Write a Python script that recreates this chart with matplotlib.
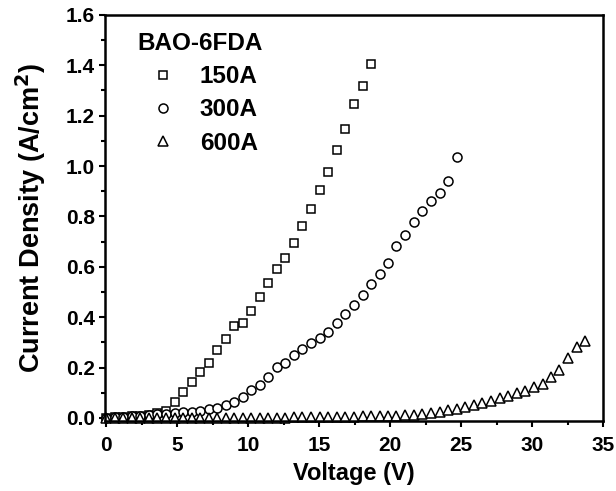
import matplotlib
matplotlib.use("Agg")
import matplotlib.pyplot as plt
from matplotlib.ticker import MultipleLocator

plt.rcParams['font.family'] = ['Liberation Sans', 'DejaVu Sans']
plt.rcParams['font.weight'] = 'bold'
plt.rcParams['mathtext.default'] = 'bf'

voltage = [0.0, 0.6, 1.2, 1.8, 2.4, 3.0, 3.6, 4.19, 4.83, 5.39,
           6.03, 6.61, 7.23, 7.81, 8.43, 9.01, 9.63, 10.23, 10.85, 11.43,
           12.05, 12.63, 13.22, 13.83, 14.45, 15.03, 15.65, 16.26, 16.85, 17.46,
           18.07, 18.66, 19.27, 19.83, 20.44, 21.06, 21.67, 22.28, 22.89, 23.50,
           24.09, 24.68, 25.29, 25.90, 26.49, 27.10, 27.71, 28.33, 28.93, 29.53,
           30.13, 30.75, 31.33, 31.93, 32.53, 33.15, 33.71]

j_150 = [0.000, 0.002, 0.004, 0.006, 0.009, 0.013, 0.018, 0.028, 0.065, 0.103,
         0.141, 0.181, 0.218, 0.270, 0.313, 0.365, 0.375, 0.423, 0.481, 0.537,
         0.591, 0.635, 0.694, 0.762, 0.831, 0.903, 0.975, 1.062, 1.147, 1.248,
         1.319, 1.405]

j_300 = [0.000, 0.002, 0.004, 0.006, 0.009, 0.011, 0.014, 0.017, 0.020, 0.022,
         0.024, 0.028, 0.036, 0.041, 0.052, 0.063, 0.085, 0.110, 0.131, 0.164,
         0.201, 0.218, 0.250, 0.274, 0.296, 0.316, 0.342, 0.375, 0.411, 0.448,
         0.489, 0.530, 0.573, 0.617, 0.681, 0.725, 0.776, 0.823, 0.861, 0.895,
         0.942, 1.036]

j_600 = [0.000, 0.000, 0.000, 0.000, 0.000, 0.000, 0.000, 0.000, 0.000, 0.000,
         0.000, 0.000, 0.000, 0.000, 0.000, 0.000, 0.000, 0.000, 0.000, 0.000,
         0.001, 0.001, 0.002, 0.002, 0.003, 0.003, 0.003, 0.004, 0.005, 0.005,
         0.006, 0.007, 0.007, 0.008, 0.009, 0.010, 0.013, 0.017, 0.021, 0.025,
         0.030, 0.037, 0.044, 0.050, 0.058, 0.069, 0.078, 0.088, 0.099, 0.108,
         0.123, 0.136, 0.163, 0.192, 0.237, 0.283, 0.304]

labels = ['150A', '300A', '600A']
legend_title = 'BAO-6FDA'

fig = plt.figure(figsize=(6.16, 4.91), dpi=100)
ax = fig.add_axes([0.170, 0.1426, 0.809, 0.827])

ax.plot(voltage[:len(j_150)], j_150, linestyle='none', marker='s', ms=6.2,
        mfc='white', mec='black', mew=1.1, label=labels[0], clip_on=False)
ax.plot(voltage[:len(j_300)], j_300, linestyle='none', marker='o', ms=6.5,
        mfc='white', mec='black', mew=1.1, label=labels[1], clip_on=False)
ax.plot(voltage[:len(j_600)], j_600, linestyle='none', marker='^', ms=7,
        mfc='white', mec='black', mew=1.1, label=labels[2], clip_on=False)

ax.set_xlim(-0.1, 35)
ax.set_ylim(-0.012, 1.6)
ax.xaxis.set_major_locator(MultipleLocator(5))
ax.xaxis.set_minor_locator(MultipleLocator(2.5))
ax.yaxis.set_minor_locator(MultipleLocator(0.1))
ax.set_yticks([0, 0.2, 0.4, 0.6, 0.8, 1.0, 1.2, 1.4, 1.6])
ax.set_yticklabels(['0.0', '0.2', '0.4', '0.6', '0.8', '1.0', '1.2', '1.4', '1.6'])

for s in ax.spines.values():
    s.set_linewidth(1.8)
ax.tick_params(which='major', direction='out', length=4.5, width=1.5, labelsize=15)
ax.tick_params(which='minor', direction='out', length=3, width=1.5)
ax.tick_params(axis='x', which='major', pad=6)
ax.tick_params(axis='y', which='major', pad=2.5)

ax.set_xlabel('Voltage (V)', fontsize=17, fontweight='bold', labelpad=5)
ax.set_ylabel('Current Density (A/cm$^2$)', fontsize=19.5, fontweight='bold', labelpad=13)

leg = ax.legend(title=legend_title, loc='upper left', frameon=False,
                bbox_to_anchor=(0.047, 0.982),
                fontsize=17.5, title_fontproperties={'weight': 'bold', 'size': 17.5},
                handletextpad=0.45, labelspacing=0.42, borderaxespad=0.0,
                handlelength=2.1, markerscale=1.0)
leg._legend_box.align = 'left'

fig.savefig('out.png', dpi=100)
